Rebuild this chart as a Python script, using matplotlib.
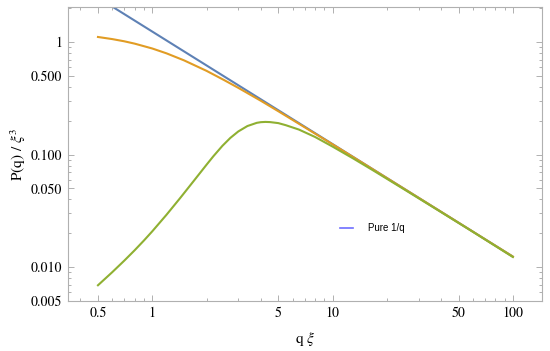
import matplotlib
matplotlib.use("Agg")
import matplotlib.pyplot as plt
from matplotlib.lines import Line2D
from matplotlib.ticker import FixedLocator, LogLocator, NullFormatter, FixedFormatter

# ---- data ----
q_blue = [0.5, 100]
p_blue = [2.48, 0.0124]

q_orange = [0.5, 0.6, 0.7, 0.8, 1.0, 1.2, 1.5, 2.0, 2.5, 3.0, 4.0, 5.0, 7.0, 10, 15, 20, 30, 50, 70, 100]
p_orange = [1.11, 1.063, 1.016, 0.968, 0.877, 0.794, 0.688, 0.555, 0.460, 0.392, 0.301, 0.243,
            0.175, 0.1234, 0.0825, 0.0619, 0.0413, 0.0248, 0.0177, 0.0124]

q_green = [0.5, 0.6, 0.7, 0.8, 0.9, 1.0, 1.2, 1.43, 1.7, 2.0, 2.18, 2.45, 2.71, 3.0, 3.37, 3.8,
           4.0, 4.24, 4.5, 5.0, 5.5, 6.5, 8, 10, 13, 17, 25, 40, 60, 100]
p_green = [0.0069, 0.00902, 0.01143, 0.01416, 0.01727, 0.0208, 0.02922, 0.04122, 0.05845, 0.0813,
           0.0965, 0.1197, 0.1407, 0.1606, 0.1794, 0.1916, 0.1942, 0.1952, 0.1945, 0.1905,
           0.1826, 0.167, 0.1434, 0.1178, 0.0925, 0.0715, 0.049, 0.0308, 0.0206, 0.0123]

x_ticks = [0.5, 1, 5, 10, 50, 100]
x_tick_labels = ["0.5", "1", "5", "10", "50", "100"]
y_ticks = [0.005, 0.01, 0.05, 0.1, 0.5, 1]
y_tick_labels = ["0.005", "0.010", "0.050", "0.100", "0.500", "1"]
legend_label = "Pure 1/q"

# ---- style ----
plt.rcParams["mathtext.fontset"] = "stix"
serif = "STIXGeneral"
frame_c = "#b0b0b0"

fig = plt.figure(figsize=(5.5, 3.51), dpi=100)
ax = fig.add_axes([68/550, 1-301/351, (542-68)/550, (301-7)/351])

ax.plot(q_blue, p_blue, color="#5E81B5", lw=1.5, solid_capstyle="butt")
ax.plot(q_orange, p_orange, color="#E19C24", lw=1.5)
ax.plot(q_green, p_green, color="#8FB032", lw=1.5)

ax.set_xscale("log")
ax.set_yscale("log")
ax.set_xlim(0.341, 145)
ax.set_ylim(0.005, 2.05)

ax.xaxis.set_major_locator(FixedLocator(x_ticks))
ax.xaxis.set_major_formatter(FixedFormatter(x_tick_labels))
ax.yaxis.set_major_locator(FixedLocator(y_ticks))
ax.yaxis.set_major_formatter(FixedFormatter(y_tick_labels))
ax.xaxis.set_minor_locator(LogLocator(base=10, subs=range(1, 10), numticks=20))
ax.yaxis.set_minor_locator(LogLocator(base=10, subs=range(1, 10), numticks=20))
ax.xaxis.set_minor_formatter(NullFormatter())
ax.yaxis.set_minor_formatter(NullFormatter())

for s in ax.spines.values():
    s.set_color(frame_c)
    s.set_linewidth(0.8)
ax.tick_params(which="both", direction="in", color=frame_c, top=True, right=True,
               labelsize=10, labelcolor="black", width=0.7)
ax.tick_params(which="major", length=4.5, pad=4)
ax.tick_params(which="minor", length=2.5)
for lab in ax.get_xticklabels() + ax.get_yticklabels():
    lab.set_fontfamily(serif)

ax.set_xlabel(r"q $\xi$", fontsize=11, family=serif, labelpad=7)
ax.set_ylabel(r"P(q) / $\xi^3$", fontsize=11, family=serif, labelpad=2)

handle = Line2D([], [], color="#6e6eff", lw=1.2)
leg = ax.legend([handle], [legend_label], loc="center left",
                bbox_to_anchor=((340-68)/474, (301-228)/294), frameon=False,
                prop={"family": "Liberation Sans", "size": 7}, handlelength=1.35,
                handletextpad=1.5, borderpad=0, borderaxespad=0)

fig.savefig("out.png", dpi=100)
